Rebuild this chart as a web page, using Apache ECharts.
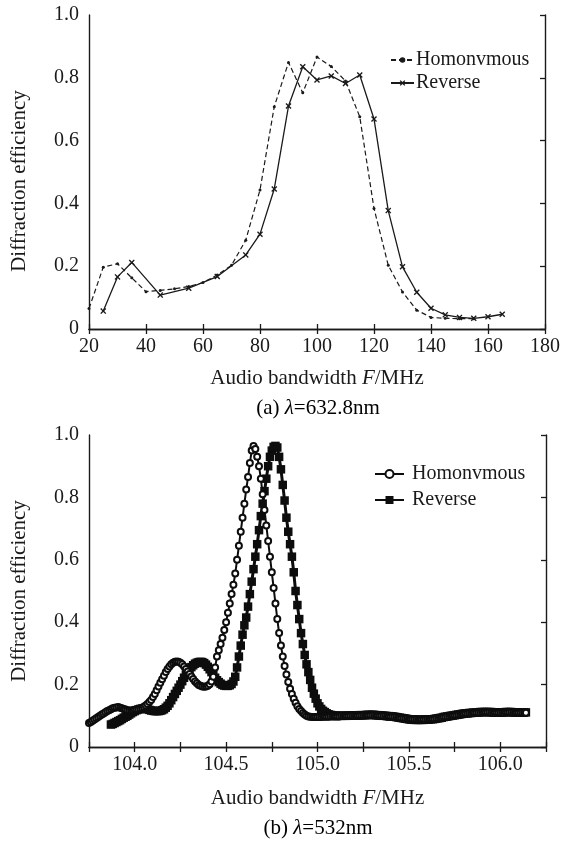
<!DOCTYPE html>
<html>
<head>
<meta charset="utf-8">
<script src="https://cdn.jsdelivr.net/npm/echarts@6/dist/echarts.min.js"></script>
<style>html,body{margin:0;padding:0;background:#fff;}#c{width:563px;height:843px;}</style>
</head>
<body>
<div id="c"></div>
<script>
// ---- Panel (a): lambda = 632.8 nm ----
const aHomX = [20,25,30,35,40,45,50,55,60,65,70,75,80,85,90,95,100,105,110,115,120,125,130,135,140,145,150,155];
const aHomY = [0.065,0.197,0.208,0.163,0.119,0.123,0.128,0.135,0.148,0.172,0.203,0.283,0.443,0.708,0.849,0.752,0.866,0.836,0.790,0.676,0.384,0.203,0.118,0.060,0.037,0.034,0.033,0.033];
const aRevX = [25,30,35,45,55,65,75,80,85,90,95,100,105,110,115,120,125,130,135,140,145,150,155,160,165];
const aRevY = [0.057,0.166,0.212,0.108,0.130,0.167,0.236,0.302,0.446,0.710,0.835,0.793,0.806,0.782,0.809,0.669,0.377,0.198,0.117,0.066,0.045,0.037,0.034,0.039,0.047];

// ---- Panel (b): lambda = 532 nm (frequency sweep, step 0.01 MHz) ----
const bStep = 0.01;
const bHomStart = 103.75;
const bHomY = [
0.077,0.080,0.084,0.088,0.092,0.096,0.100,0.104,0.107,0.111,
0.115,0.118,0.121,0.124,0.126,0.127,0.128,0.126,0.124,0.122,
0.120,0.118,0.117,0.117,0.118,0.119,0.120,0.121,0.123,0.126,
0.129,0.133,0.138,0.144,0.151,0.160,0.170,0.182,0.194,0.206,
0.217,0.228,0.240,0.250,0.258,0.265,0.270,0.273,0.274,0.273,
0.270,0.265,0.258,0.250,0.242,0.234,0.226,0.218,0.210,0.204,
0.199,0.196,0.194,0.193,0.194,0.196,0.201,0.210,0.225,0.255,
0.290,0.310,0.330,0.350,0.375,0.400,0.430,0.460,0.490,0.520,
0.556,0.600,0.645,0.690,0.735,0.780,0.825,0.865,0.910,0.950,
0.965,0.955,0.930,0.900,0.860,0.810,0.760,0.710,0.660,0.610,
0.560,0.510,0.460,0.410,0.365,0.325,0.290,0.260,0.232,0.208,
0.187,0.170,0.155,0.142,0.131,0.122,0.115,0.109,0.104,0.100,
0.098,0.097,0.096,0.096,0.096,0.096,0.096,0.096,0.097,0.097,
0.097,0.097,0.098,0.098,0.098,0.098,0.098,0.098,0.099,0.099,
0.099,0.099,0.099,0.100,0.100,0.100,0.100,0.100,0.101,0.101,
0.101,0.102,0.102,0.102,0.102,0.102,0.102,0.101,0.101,0.100,
0.100,0.099,0.099,0.098,0.098,0.097,0.097,0.096,0.095,0.094,
0.093,0.092,0.092,0.091,0.091,0.090,0.090,0.089,0.089,0.089,
0.088,0.088,0.088,0.088,0.088,0.089,0.089,0.089,0.090,0.090,
0.091,0.092,0.093,0.094,0.095,0.096,0.097,0.098,0.099,0.100,
0.101,0.102,0.103,0.104,0.105,0.106,0.107,0.107,0.108,0.108,
0.109,0.109,0.110,0.110,0.110,0.111,0.111,0.111,0.111,0.111,
0.110,0.110,0.110,0.110,0.110,0.110,0.110,0.110,0.111,0.111,
0.111,0.111,0.110,0.110,0.110,0.110,0.110,0.110,0.110,0.110
];
const bRevStart = 103.87;
const bRevY = [
0.072,0.074,0.077,0.080,0.083,0.086,0.090,0.094,0.097,0.100,
0.104,0.108,0.112,0.115,0.118,0.120,0.122,0.123,0.123,0.122,
0.121,0.119,0.117,0.116,0.115,0.115,0.115,0.116,0.118,0.121,
0.126,0.132,0.140,0.150,0.160,0.170,0.180,0.190,0.200,0.211,
0.222,0.232,0.241,0.249,0.256,0.262,0.267,0.270,0.272,0.273,
0.272,0.269,0.264,0.257,0.249,0.240,0.231,0.222,0.214,0.208,
0.203,0.199,0.197,0.196,0.196,0.198,0.202,0.210,0.225,0.255,
0.290,0.325,0.360,0.390,0.415,0.450,0.490,0.530,0.570,0.610,
0.650,0.695,0.740,0.780,0.820,0.860,0.900,0.930,0.950,0.962,
0.965,0.960,0.930,0.890,0.840,0.790,0.735,0.690,0.650,0.610,
0.560,0.500,0.455,0.410,0.365,0.330,0.295,0.265,0.240,0.215,
0.190,0.171,0.155,0.140,0.130,0.122,0.116,0.112,0.108,0.105,
0.103,0.102,0.101,0.100,0.100,0.100,0.100,0.100,0.100,0.100,
0.101,0.101,0.101,0.101,0.101,0.101,0.102,0.102,0.102,0.102,
0.103,0.103,0.103,0.103,0.103,0.102,0.102,0.101,0.101,0.100,
0.100,0.099,0.099,0.098,0.098,0.097,0.096,0.095,0.094,0.093,
0.092,0.091,0.090,0.089,0.088,0.088,0.087,0.087,0.087,0.087,
0.087,0.087,0.088,0.088,0.088,0.089,0.089,0.090,0.091,0.092,
0.093,0.094,0.096,0.097,0.098,0.099,0.100,0.101,0.102,0.103,
0.104,0.105,0.106,0.107,0.108,0.108,0.109,0.109,0.110,0.110,
0.111,0.111,0.112,0.112,0.112,0.112,0.112,0.112,0.112,0.111,
0.111,0.111,0.111,0.111,0.111,0.111,0.112,0.112,0.112,0.112,
0.111,0.111,0.111,0.111,0.111,0.111,0.111,0.111
];

const legendNames = ['Homonvmous', 'Reverse'];
const xNameParts = ['Audio bandwidth ', 'F', '/MHz'];
const yName = 'Diffraction efficiency';
const captionA = ['(a) ', 'λ', '=632.8nm'];
const captionB = ['(b) ', 'λ', '=532nm'];

const FONT = '"Liberation Serif", "Times New Roman", serif';
const INK = '#1a1a1a';

const zip = (xs, ys) => xs.map((x, i) => [x, ys[i]]);
const sweep = (start, ys) => ys.map((y, i) => [Math.round((start + i * bStep) * 100) / 100, y]);

const xCross = 'path://M0,1.6L1.6,0L5,3.4L8.4,0L10,1.6L6.6,5L10,8.4L8.4,10L5,6.6L1.6,10L0,8.4L3.4,5Z';

const axisLine = { show: true, lineStyle: { color: INK, width: 1.4 } };
const tickIn = { show: true, inside: true, length: 5, lineStyle: { color: INK, width: 1.3 } };
const labelStyle = { fontFamily: FONT, fontSize: 20, color: INK };
const nameRich = {
  n: { fontFamily: FONT, fontSize: 21, color: INK, lineHeight: 22 },
  i: { fontFamily: FONT, fontSize: 21, color: INK, fontStyle: 'italic', lineHeight: 22 }
};
const xName = '{n|' + xNameParts[0] + '}{i|' + xNameParts[1] + '}{n|' + xNameParts[2] + '}';
const yFmt = v => (v === 0 ? '0' : v.toFixed(1));

function xPair(gi, min, max, interval, fmt, gap) {
  return [
    { gridIndex: gi, type: 'value', min, max, interval, position: 'bottom',
      axisLine, axisTick: tickIn, splitLine: { show: false },
      axisLabel: Object.assign({ margin: 8, formatter: fmt, showMinLabel: true, showMaxLabel: true }, labelStyle),
      name: xName, nameLocation: 'middle', nameGap: gap,
      nameTextStyle: { rich: nameRich } },
    { gridIndex: gi, type: 'value', min, max, interval, position: 'top',
      axisLine, axisTick: tickIn, splitLine: { show: false }, axisLabel: { show: false } }
  ];
}
function yPair(gi, padRight) {
  return [
    { gridIndex: gi, type: 'value', min: 0, max: 1, interval: 0.2, position: 'left',
      axisLine, axisTick: { show: false }, splitLine: { show: false },
      axisLabel: Object.assign({ margin: 10, formatter: yFmt }, labelStyle),
      name: yName, nameLocation: 'middle', nameGap: 59,
      nameTextStyle: { fontFamily: FONT, fontSize: 21, color: INK, padding: [0, padRight, 0, 0] } },
    { gridIndex: gi, type: 'value', min: 0, max: 1, interval: 0.2, position: 'right',
      axisLine, axisTick: tickIn, splitLine: { show: false }, axisLabel: { show: false } }
  ];
}

function caption(parts, x, y) {
  return {
    type: 'text', x, y,
    style: {
      text: '{n|' + parts[0] + '}{i|' + parts[1] + '}{n|' + parts[2] + '}',
      rich: nameRich, align: 'center', verticalAlign: 'middle'
    }
  };
}

const chart = echarts.init(document.getElementById('c'), null, { renderer: 'canvas' });
chart.setOption({
  backgroundColor: '#fff',
  animation: false,
  grid: [
    { left: 89, top: 15, width: 458, height: 314 },
    { left: 89, top: 435, width: 457, height: 312 }
  ],
  xAxis: [
    ...xPair(0, 20, 180, 20, v => String(v), 38),
    ...xPair(1, 103.75, 106.25, 0.25,
      v => (Math.abs(v * 2 - Math.round(v * 2)) < 1e-6 ? v.toFixed(1) : ''), 40)
  ],
  yAxis: [...yPair(0, 18), ...yPair(1, 0)],
  legend: [
    { orient: 'vertical', left: 390, top: 50, padding: 0, itemWidth: 23, itemHeight: 7, itemGap: 3,
      data: [legendNames[0], legendNames[1]],
      textStyle: { fontFamily: FONT, fontSize: 20, color: INK, lineHeight: 20, padding: [0, 0, 0, -3] } },
    { orient: 'vertical', left: 374, top: 464, padding: 0, itemWidth: 29, itemHeight: 10, itemGap: 6,
      data: [legendNames[0] + ' (b)', legendNames[1] + ' (b)'],
      formatter: n => n.replace(' (b)', ''),
      textStyle: { fontFamily: FONT, fontSize: 20, color: INK, lineHeight: 20, padding: [0, 0, 0, 3] } }
  ],
  graphic: [
    caption(captionA, 318, 408),
    caption(captionB, 318, 828)
  ],
  series: [
    { name: legendNames[0], type: 'line', xAxisIndex: 0, yAxisIndex: 0,
      data: zip(aHomX, aHomY), symbol: 'circle', symbolSize: 3,
      itemStyle: { color: INK }, lineStyle: { color: INK, width: 1.2, type: [5, 3] } },
    { name: legendNames[1], type: 'line', xAxisIndex: 0, yAxisIndex: 0,
      data: zip(aRevX, aRevY), symbol: xCross, symbolSize: 6,
      itemStyle: { color: INK }, lineStyle: { color: INK, width: 1.3 } },
    { name: legendNames[1] + ' (b)', type: 'line', xAxisIndex: 2, yAxisIndex: 2,
      data: sweep(bRevStart, bRevY), symbol: 'rect', symbolSize: 8.5, showAllSymbol: true,
      itemStyle: { color: '#0d0d0d' }, lineStyle: { color: '#0d0d0d', width: 3 } },
    { name: legendNames[0] + ' (b)', type: 'line', xAxisIndex: 2, yAxisIndex: 2,
      data: sweep(bHomStart, bHomY), symbol: 'emptyCircle', symbolSize: 6, showAllSymbol: true,
      itemStyle: { color: '#0d0d0d', borderColor: '#0d0d0d', borderWidth: 2.4 },
      lineStyle: { color: '#0d0d0d', width: 2 } }
  ]
});
</script>
</body>
</html>
